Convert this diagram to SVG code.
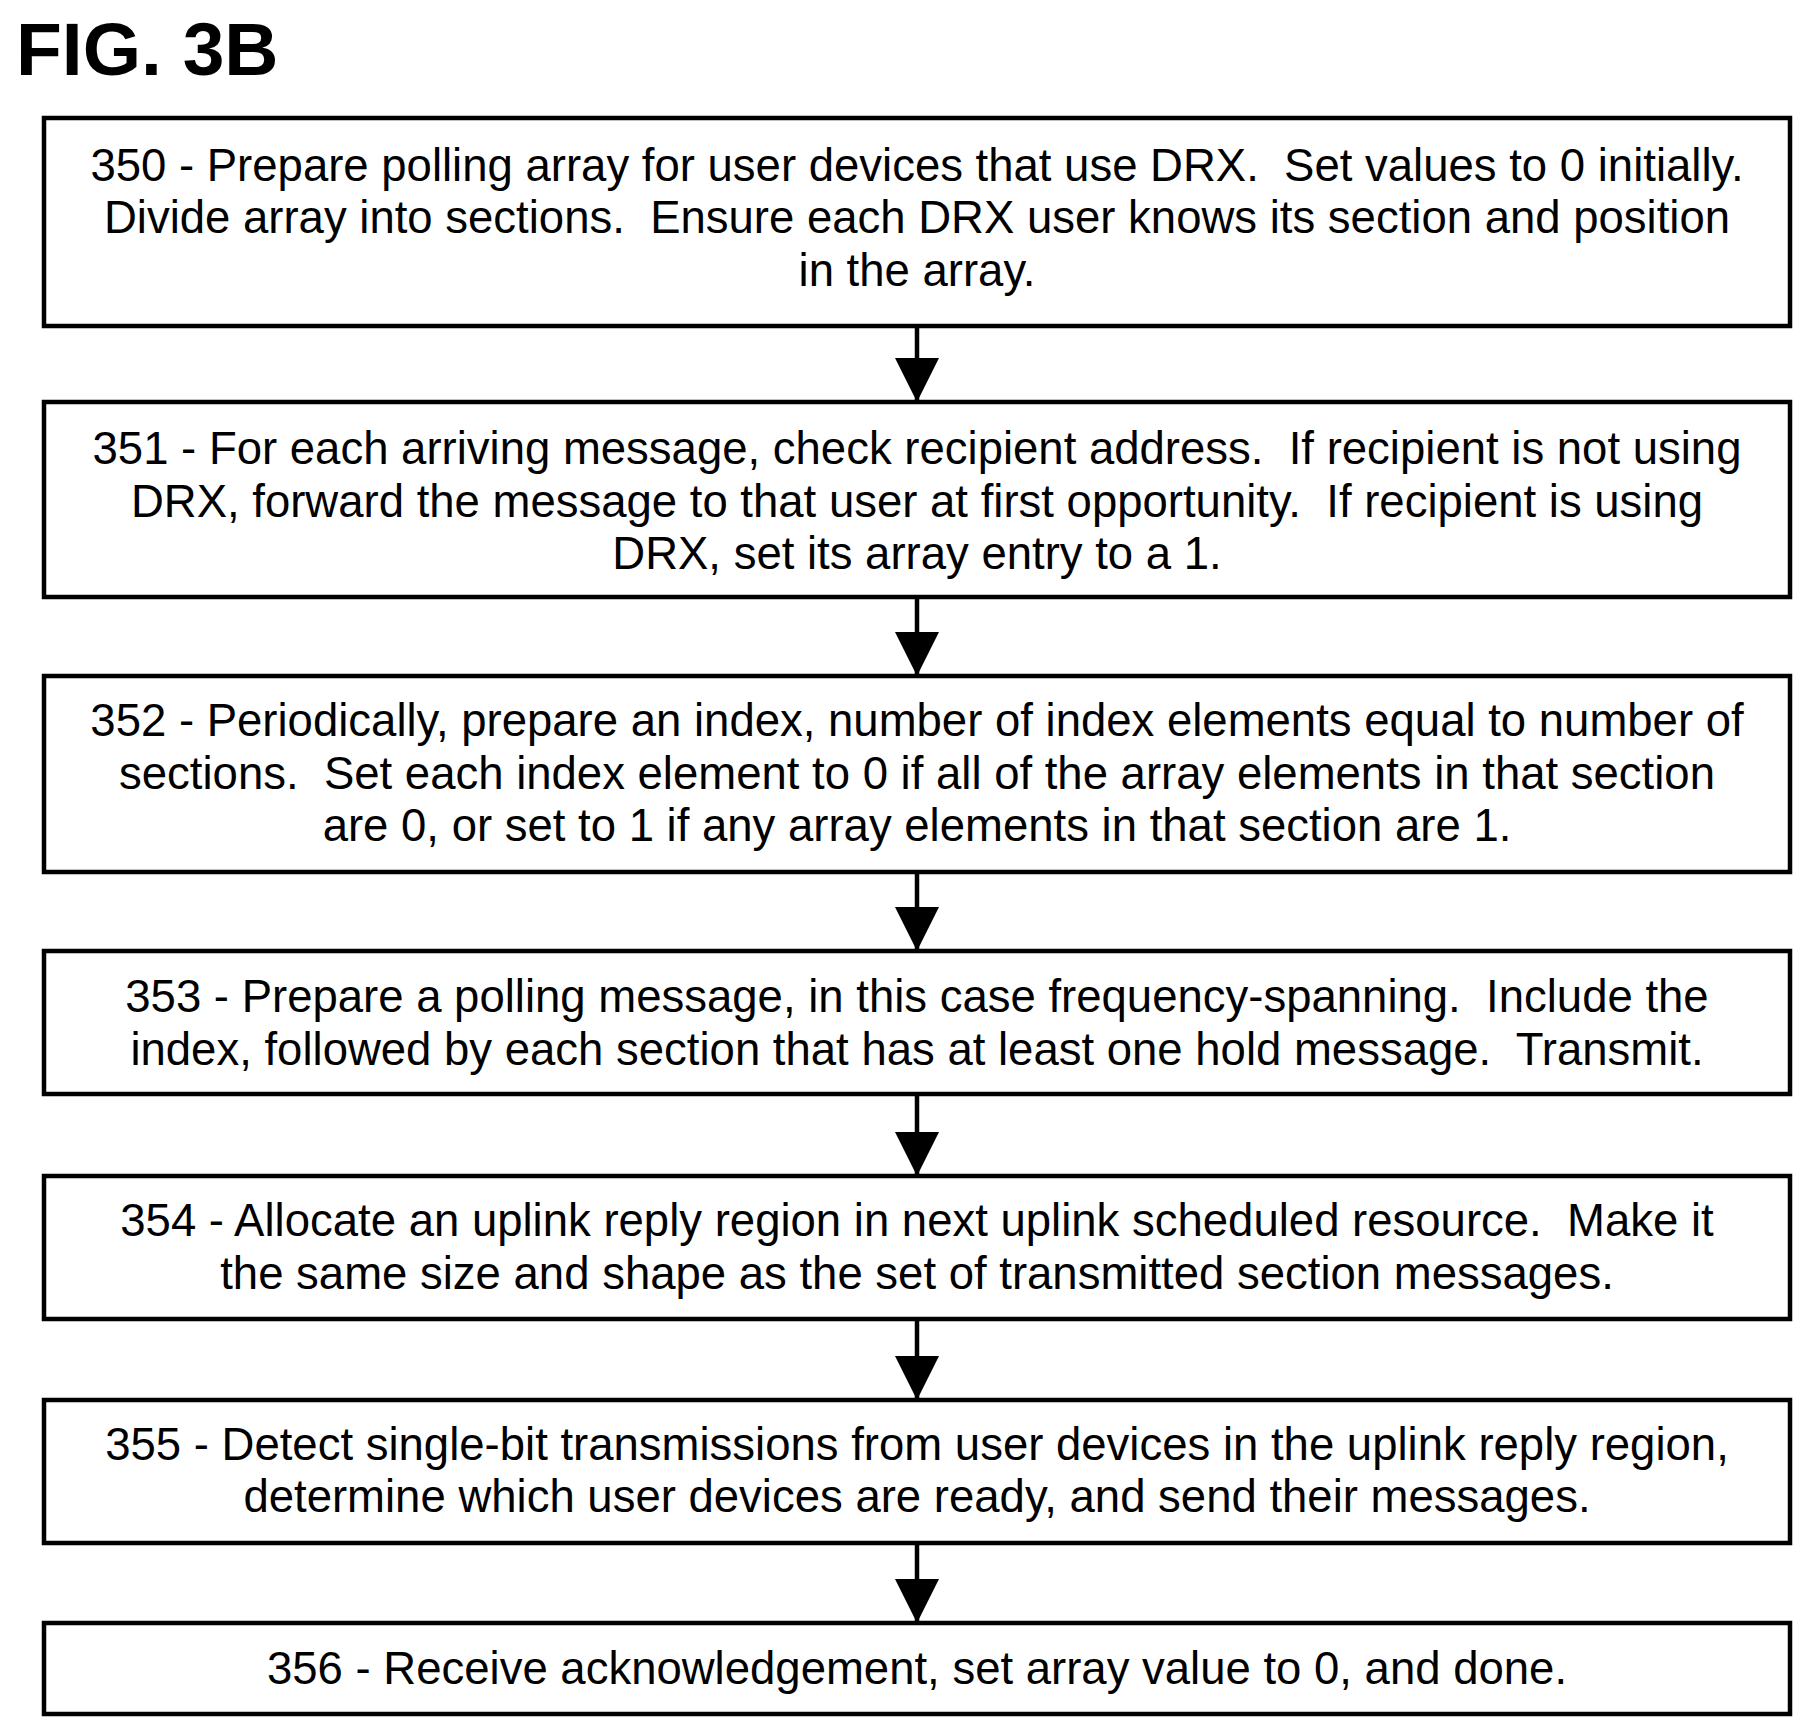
<svg xmlns="http://www.w3.org/2000/svg" width="1811" height="1736" viewBox="0 0 1811 1736">
<style>
.b{fill:#fff;stroke:#000;stroke-width:4.5}
.t{font-family:"Liberation Sans",Arial,sans-serif;font-size:45.5px;text-anchor:middle;fill:#000;white-space:pre}
.c{stroke:#000;stroke-width:4.5;fill:none}
</style>
<defs><marker id="a" markerUnits="userSpaceOnUse" markerWidth="44" markerHeight="46" refX="42" refY="22" orient="auto"><path d="M0,0 L44,22 L0,44 Z" fill="#000"/></marker></defs>
<rect width="1811" height="1736" fill="#fff"/>
<text x="16" y="75" font-family="Liberation Sans,Arial,sans-serif" font-weight="bold" font-size="75">FIG. 3B</text>
<g id="n350"><rect class="b" x="44" y="118" width="1746" height="208"/>
<text class="t" x="917" y="181" xml:space="preserve">350 - Prepare polling array for user devices that use DRX.  Set values to 0 initially.</text>
<text class="t" x="917" y="233" xml:space="preserve">Divide array into sections.  Ensure each DRX user knows its section and position</text>
<text class="t" x="917" y="286">in the array.</text></g>
<g id="n351"><rect class="b" x="44" y="402" width="1746" height="195"/>
<text class="t" x="917" y="464" xml:space="preserve">351 - For each arriving message, check recipient address.  If recipient is not using</text>
<text class="t" x="917" y="517" xml:space="preserve">DRX, forward the message to that user at first opportunity.  If recipient is using</text>
<text class="t" x="917" y="569">DRX, set its array entry to a 1.</text></g>
<g id="n352"><rect class="b" x="44" y="676" width="1746" height="196"/>
<text class="t" x="917" y="736">352 - Periodically, prepare an index, number of index elements equal to number of</text>
<text class="t" x="917" y="789" xml:space="preserve">sections.  Set each index element to 0 if all of the array elements in that section</text>
<text class="t" x="917" y="841">are 0, or set to 1 if any array elements in that section are 1.</text></g>
<g id="n353"><rect class="b" x="44" y="951" width="1746" height="143"/>
<text class="t" x="917" y="1012" xml:space="preserve">353 - Prepare a polling message, in this case frequency-spanning.  Include the</text>
<text class="t" x="917" y="1065" xml:space="preserve">index, followed by each section that has at least one hold message.  Transmit.</text></g>
<g id="n354"><rect class="b" x="44" y="1176" width="1746" height="143"/>
<text class="t" x="917" y="1236" xml:space="preserve">354 - Allocate an uplink reply region in next uplink scheduled resource.  Make it</text>
<text class="t" x="917" y="1289">the same size and shape as the set of transmitted section messages.</text></g>
<g id="n355"><rect class="b" x="44" y="1400" width="1746" height="143"/>
<text class="t" x="917" y="1460">355 - Detect single-bit transmissions from user devices in the uplink reply region,</text>
<text class="t" x="917" y="1512">determine which user devices are ready, and send their messages.</text></g>
<g id="n356"><rect class="b" x="44" y="1623" width="1746" height="91"/>
<text class="t" x="917" y="1684">356 - Receive acknowledgement, set array value to 0, and done.</text></g>
<g id="connectors">
<line class="c" x1="917" y1="326" x2="917" y2="400" marker-end="url(#a)"/>
<line class="c" x1="917" y1="597" x2="917" y2="674" marker-end="url(#a)"/>
<line class="c" x1="917" y1="872" x2="917" y2="949" marker-end="url(#a)"/>
<line class="c" x1="917" y1="1094" x2="917" y2="1174" marker-end="url(#a)"/>
<line class="c" x1="917" y1="1319" x2="917" y2="1398" marker-end="url(#a)"/>
<line class="c" x1="917" y1="1543" x2="917" y2="1621" marker-end="url(#a)"/>
</g>
</svg>
